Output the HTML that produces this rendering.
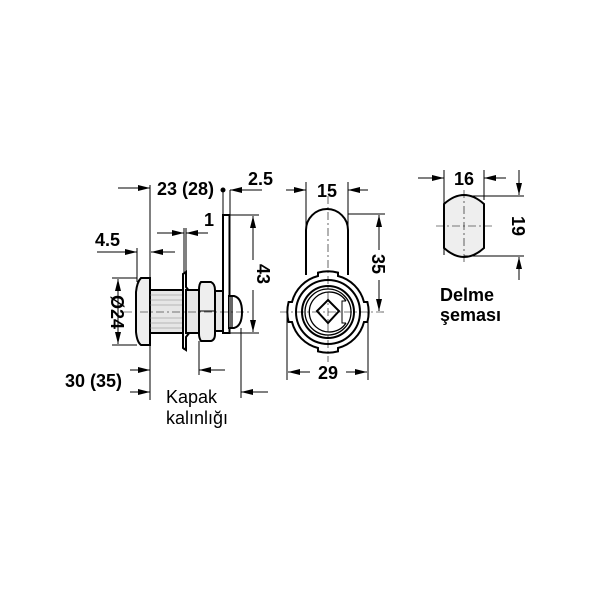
<!DOCTYPE html>
<html><head><meta charset="utf-8"><style>
html,body{margin:0;padding:0;background:#fff;}
svg{display:block}
.b{font-family:"Liberation Sans",sans-serif;font-weight:bold;font-size:18px;fill:#000}
.r{font-family:"Liberation Sans",sans-serif;font-size:18px;fill:#000}
</style></head><body>
<svg width="601" height="600" viewBox="0 0 601 600" xmlns="http://www.w3.org/2000/svg">
<defs>
<marker id="a" markerWidth="12" markerHeight="6" refX="12" refY="3" orient="auto" markerUnits="userSpaceOnUse"><path d="M0,0 L12,3 L0,6 Z" fill="#000"/></marker>
</defs>
<g stroke="#000" stroke-width="1" fill="none">
<!-- LEFT VIEW -->
<line x1="150" y1="185" x2="150" y2="400"/>
<line x1="118" y1="188" x2="150" y2="188" marker-end="url(#a)"/>
<line x1="223" y1="190" x2="223" y2="215"/>
<circle cx="223" cy="190" r="2" fill="#000"/>
<line x1="262" y1="190" x2="230" y2="190" marker-end="url(#a)"/>
<line x1="230" y1="190" x2="230" y2="215"/>
<rect x="223" y="215" width="6.5" height="118" fill="#fff" stroke-width="2"/>
<line x1="184" y1="228" x2="184" y2="350"/>
<line x1="186" y1="228" x2="186" y2="350"/>
<line x1="157" y1="233" x2="184" y2="233" marker-end="url(#a)"/>
<line x1="208" y1="233" x2="186" y2="233" marker-end="url(#a)"/>
<line x1="97" y1="252" x2="137" y2="252" marker-end="url(#a)"/>
<line x1="137" y1="248" x2="137" y2="282"/>
<line x1="175" y1="252" x2="151" y2="252" marker-end="url(#a)"/>
<path d="M150,278 L141,278 Q137,282 136,292 L136,332 Q137,342 141,345 L150,345 Z" fill="#eee" stroke-width="2"/>
<rect x="150" y="290" width="34" height="43" fill="#e6e6e6" stroke-width="2"/>
<g stroke-width="0.5" stroke="#888">
<line x1="150" y1="295" x2="184" y2="295"/><line x1="150" y1="300" x2="184" y2="300"/><line x1="150" y1="305" x2="184" y2="305"/><line x1="150" y1="318" x2="184" y2="318"/><line x1="150" y1="323" x2="184" y2="323"/><line x1="150" y1="328" x2="184" y2="328"/>
</g>
<path d="M183,274 L186,272 L186,287 L190,292 L190,332 L186,337 L186,350 L183,348 Z" fill="#fff" stroke-width="2"/>
<rect x="186" y="290" width="13" height="43" fill="#e6e6e6" stroke-width="2"/>
<path d="M201,282 L211,282 Q215,284 215,290 L215,334 Q215,340 211,341 L201,341 Q199,338 199,334 L199,290 Q199,284 201,282 Z" fill="#eee" stroke-width="2"/>
<line x1="199" y1="311" x2="215" y2="311"/>
<rect x="215" y="291" width="8" height="40" fill="#e6e6e6" stroke-width="2"/>
<path d="M229,296 L234,296 Q242,298 242,312 Q242,326 234,328 L229,328 Z" fill="#fff" stroke-width="2"/>
<rect x="229" y="297" width="4" height="30" fill="#666" stroke="none"/>
<line x1="124" y1="312" x2="250" y2="312" stroke-dasharray="8,3,2,3" stroke-width="0.6"/>
<line x1="112" y1="278" x2="137" y2="278"/>
<line x1="112" y1="345" x2="137" y2="345"/>
<line x1="118" y1="312" x2="118" y2="279" marker-end="url(#a)"/>
<line x1="118" y1="312" x2="118" y2="344" marker-end="url(#a)"/>
<line x1="230" y1="215" x2="259" y2="215"/>
<line x1="230" y1="333" x2="259" y2="333"/>
<line x1="253" y1="260" x2="253" y2="216" marker-end="url(#a)"/>
<line x1="253" y1="290" x2="253" y2="332" marker-end="url(#a)"/>
<line x1="199" y1="341" x2="199" y2="375"/>
<line x1="130" y1="370" x2="150" y2="370" marker-end="url(#a)"/>
<line x1="225" y1="370" x2="199" y2="370" marker-end="url(#a)"/>
<line x1="241" y1="328" x2="241" y2="398"/>
<line x1="130" y1="392" x2="150" y2="392" marker-end="url(#a)"/>
<line x1="268" y1="392" x2="241" y2="392" marker-end="url(#a)"/>

<!-- FRONT VIEW -->
<line x1="306" y1="182" x2="306" y2="232"/>
<line x1="348" y1="182" x2="348" y2="232"/>
<line x1="286" y1="190" x2="306" y2="190" marker-end="url(#a)"/>
<line x1="368" y1="190" x2="348" y2="190" marker-end="url(#a)"/>
<path d="M306,275 L306,230 A21,21 0 0 1 348,230 L348,275" fill="#fff" stroke-width="2"/>
<path d="M318,272.6 A40,40 0 0 1 338,272.6 L338,276 A36,36 0 0 1 364,302 L367.4,302 A40,40 0 0 1 367.4,322 L364,322 A36,36 0 0 1 338,348 L338,351.4 A40,40 0 0 1 318,351.4 L318,348 A36,36 0 0 1 292,322 L288.6,322 A40,40 0 0 1 288.6,302 L292,302 A36,36 0 0 1 318,276 Z" fill="#fff" stroke-width="2"/>
<circle cx="328" cy="312" r="32" stroke-width="2"/>
<circle cx="328" cy="312" r="26" stroke-width="2"/>
<circle cx="328" cy="312" r="23" stroke-width="1.3"/>
<path d="M346,301 A20,20 0 1 0 346,323" stroke-width="1.3"/>
<path d="M346,301 L342,301 L342,323 L346,323" stroke-width="1"/>
<path d="M328,300 L339,311 L328,323 L317,311 Z" stroke-width="2"/>
<line x1="328" y1="196" x2="328" y2="362" stroke-dasharray="8,3,2,3" stroke-width="0.6"/>
<line x1="280" y1="312" x2="385" y2="312" stroke-dasharray="8,3,2,3" stroke-width="0.6"/>
<line x1="348" y1="214" x2="385" y2="214"/>
<line x1="379" y1="250" x2="379" y2="215" marker-end="url(#a)"/>
<line x1="379" y1="280" x2="379" y2="311" marker-end="url(#a)"/>
<line x1="287" y1="312" x2="287" y2="380"/>
<line x1="368" y1="312" x2="368" y2="380"/>
<line x1="310" y1="372" x2="288" y2="372" marker-end="url(#a)"/>
<line x1="346" y1="372" x2="367" y2="372" marker-end="url(#a)"/>

<!-- DELME -->
<line x1="444" y1="170" x2="444" y2="255"/>
<line x1="484" y1="170" x2="484" y2="200"/>
<line x1="418" y1="178" x2="444" y2="178" marker-end="url(#a)"/>
<line x1="506" y1="178" x2="484" y2="178" marker-end="url(#a)"/>
<path d="M444,204 Q464,186 484,204 L484,248 Q464,266 444,248 Z" fill="#eee" stroke-width="2"/>
<line x1="464" y1="190" x2="464" y2="262" stroke-dasharray="8,3,2,3" stroke-width="0.6"/>
<line x1="436" y1="226" x2="494" y2="226" stroke-dasharray="8,3,2,3" stroke-width="0.6"/>
<line x1="470" y1="196" x2="524" y2="196"/>
<line x1="464" y1="256" x2="524" y2="256"/>
<line x1="519" y1="170" x2="519" y2="195" marker-end="url(#a)"/>
<line x1="519" y1="280" x2="519" y2="257" marker-end="url(#a)"/>
</g>
<text class="b" x="157" y="195">23 (28)</text>
<text class="b" x="248" y="185">2.5</text>
<text class="b" x="204" y="226">1</text>
<text class="b" x="95" y="246">4.5</text>
<text class="b" x="65" y="387">30 (35)</text>
<text class="r" x="166" y="403">Kapak</text>
<text class="r" x="166" y="424">kalınlığı</text>
<text class="b" transform="translate(111,312) rotate(90)" text-anchor="middle">Ø24</text>
<text class="b" transform="translate(257,274) rotate(90)" text-anchor="middle">43</text>
<text class="b" x="327" y="197" text-anchor="middle">15</text>
<text class="b" transform="translate(372,264) rotate(90)" text-anchor="middle">35</text>
<text class="b" x="328" y="379" text-anchor="middle">29</text>
<text class="b" x="464" y="185" text-anchor="middle">16</text>
<text class="b" transform="translate(512,226) rotate(90)" text-anchor="middle">19</text>
<text class="b" x="440" y="301">Delme</text>
<text class="b" x="440" y="321">şeması</text>
</svg>
</body></html>
